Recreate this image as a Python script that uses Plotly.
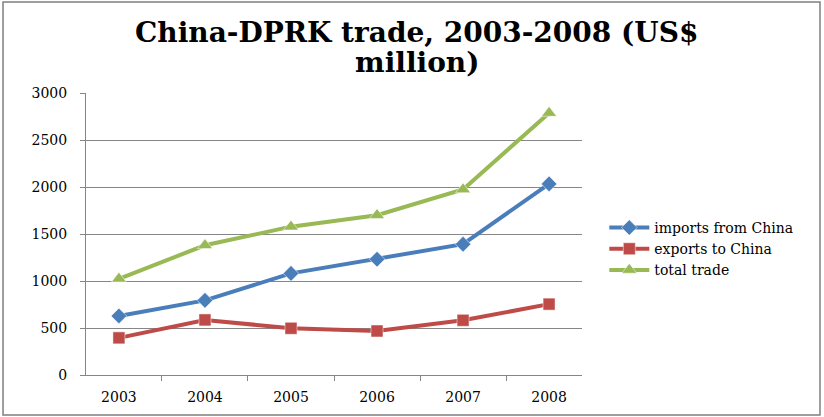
import plotly.graph_objects as go

years = ["2003", "2004", "2005", "2006", "2007", "2008"]
imports_from_china = [628, 794, 1081, 1232, 1392, 2033]
exports_to_china = [395, 586, 497, 468, 582, 754]
total_trade = [1023, 1380, 1578, 1700, 1974, 2787]

title_lines = ["China-DPRK trade, 2003-2008 (US$", "million)"]

series = [
    ("imports from China", imports_from_china, "#4A7EBB", "diamond", 12),
    ("exports to China", exports_to_china, "#BE4B48", "square", 12),
    ("total trade", total_trade, "#98B954", "triangle-up", 13),
]

fig = go.Figure()
for name, vals, col, sym, sz in series:
    fig.add_trace(go.Scatter(
        x=years, y=vals, name=name, mode="lines+markers",
        line=dict(color=col, width=4),
        marker=dict(symbol=sym, size=sz, color=col, line=dict(color="white", width=0.5)),
    ))

serif = "DejaVu Serif, Liberation Serif, serif"
fig.update_layout(
    width=824, height=417,
    margin=dict(l=86, r=242, t=93, b=42),
    paper_bgcolor="white", plot_bgcolor="white",
    font=dict(family=serif, size=14, color="black"),
    showlegend=True,
    legend=dict(x=1.045, y=0.447, xanchor="left", yanchor="middle",
                font=dict(family=serif, size=14), bgcolor="rgba(0,0,0,0)",
                tracegroupgap=0, itemwidth=40),
    xaxis=dict(type="category", showgrid=False, showline=True, linecolor="#868686",
               ticks="outside", tickson="boundaries", ticklen=5, tickcolor="#868686",
               ticklabelstandoff=9,
               tickfont=dict(family=serif, size=14)),
    yaxis=dict(range=[0, 3000], dtick=500, showgrid=True, gridcolor="#868686", gridwidth=1,
               showline=True, linecolor="#868686", ticks="outside", ticklen=5,
               tickcolor="#868686", zeroline=False, ticklabelstandoff=10,
               tickfont=dict(family=serif, size=14)),
)
for txt, yy in zip(title_lines, [1.2128, 1.107]):
    fig.add_annotation(text="<b>" + txt + "</b>",
                       xref="paper", yref="paper", x=0.667, y=yy,
                       xanchor="center", yanchor="middle", showarrow=False,
                       font=dict(family=serif, size=28, color="black"))
fig.add_shape(type="rect", xref="paper", yref="paper",
              x0=-0.1673, x1=1.4798, y0=-0.1418, y1=1.3227,
              line=dict(color="#7f7f7f", width=1.5))

fig.write_html("out.html")
